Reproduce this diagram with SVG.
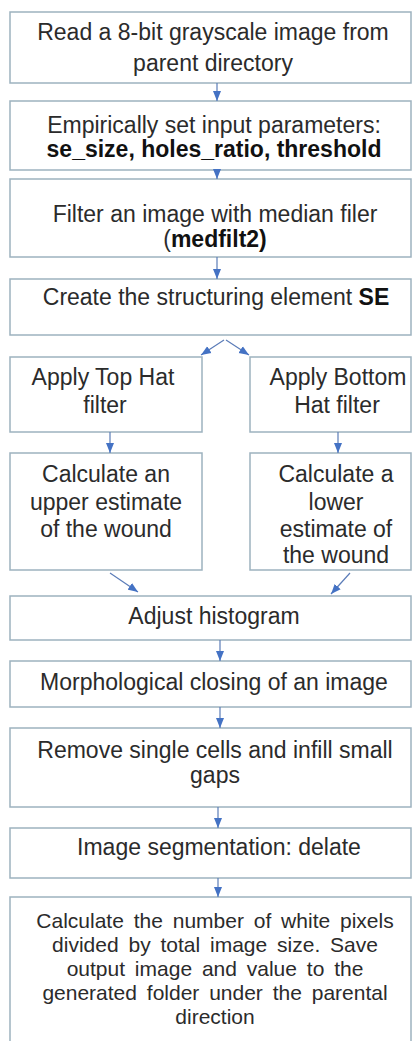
<svg xmlns="http://www.w3.org/2000/svg" width="412" height="1041" viewBox="0 0 412 1041">
<style>
.box{fill:#ffffff;stroke:#9db2bf;stroke-width:1.5}
.t{font-family:"Liberation Sans",Arial,sans-serif;font-size:23px;fill:#2b2b2b;text-anchor:middle}
.s{font-size:21px;word-spacing:4px}
.b{font-weight:bold;fill:#111}
.c{stroke:#5b7cb8;stroke-width:1.2;fill:none}
</style>
<defs>
<marker id="ah" markerUnits="userSpaceOnUse" markerWidth="10" markerHeight="9" viewBox="0 0 10 9" refX="10" refY="4.5" orient="auto">
<path d="M0,0.5 L10,4.5 L0,8.5 z" fill="#4472c4"/>
</marker>
</defs>
<rect width="412" height="1041" fill="#ffffff"/>
<g id="n1"><rect class="box" x="10" y="12" width="401" height="71"/>
<text class="t" x="213" y="40">Read a 8-bit grayscale image from</text>
<text class="t" x="213" y="71">parent directory</text></g>
<g id="n2"><rect class="box" x="10" y="101" width="401" height="69"/>
<text class="t" x="214" y="133">Empirically set input parameters:</text>
<text class="t b" x="214" y="157">se_size, holes_ratio, threshold</text></g>
<g id="n3"><rect class="box" x="10" y="179" width="401" height="78"/>
<text class="t" x="215" y="222">Filter an image with median filer</text>
<text class="t" x="215" y="247">(<tspan class="b">medfilt2)</tspan></text></g>
<g id="n4"><rect class="box" x="10" y="279" width="401" height="56"/>
<text class="t" x="216" y="305">Create the structuring  element <tspan class="b">SE</tspan></text></g>
<g id="n5"><rect class="box" x="10" y="357" width="192" height="75"/>
<text class="t" x="103" y="385">Apply Top Hat</text>
<text class="t" x="105" y="413">filter</text></g>
<g id="n6"><rect class="box" x="250" y="357" width="161" height="75"/>
<text class="t" x="338" y="385">Apply Bottom</text>
<text class="t" x="337" y="413">Hat filter</text></g>
<g id="n7"><rect class="box" x="10" y="453" width="192" height="117"/>
<text class="t" x="106" y="482">Calculate an</text>
<text class="t" x="106" y="510">upper estimate</text>
<text class="t" x="106" y="537">of the wound</text></g>
<g id="n8"><rect class="box" x="250" y="453" width="161" height="117"/>
<text class="t" x="336" y="482">Calculate a</text>
<text class="t" x="336" y="510">lower</text>
<text class="t" x="336" y="537">estimate of</text>
<text class="t" x="336" y="563">the wound</text></g>
<g id="n9"><rect class="box" x="10" y="596" width="401" height="44"/>
<text class="t" x="214" y="624">Adjust histogram</text></g>
<g id="n10"><rect class="box" x="10" y="661" width="401" height="46"/>
<text class="t" x="214" y="690">Morphological closing of an image</text></g>
<g id="n11"><rect class="box" x="10" y="728" width="401" height="79"/>
<text class="t" x="215" y="758">Remove single cells and infill small</text>
<text class="t" x="215" y="783">gaps</text></g>
<g id="n12"><rect class="box" x="10" y="828" width="401" height="50"/>
<text class="t" x="219" y="855">Image segmentation: delate</text></g>
<g id="n13"><rect class="box" x="10" y="897" width="401" height="150"/>
<text class="t s" x="215" y="928">Calculate the number of white pixels</text>
<text class="t s" x="215" y="952">divided by total image size. Save</text>
<text class="t s" x="215" y="976">output image and value to the</text>
<text class="t s" x="215" y="1000">generated folder under the parental</text>
<text class="t s" x="215" y="1024">direction</text></g>
<g id="connectors">
<line class="c" x1="217" y1="83" x2="217" y2="101" marker-end="url(#ah)"/>
<line class="c" x1="217" y1="170" x2="217" y2="179" marker-end="url(#ah)"/>
<line class="c" x1="217" y1="257" x2="217" y2="279" marker-end="url(#ah)"/>
<line class="c" x1="224" y1="340" x2="201" y2="355" marker-end="url(#ah)"/>
<line class="c" x1="226" y1="340" x2="249" y2="355" marker-end="url(#ah)"/>
<line class="c" x1="110" y1="432" x2="110" y2="453" marker-end="url(#ah)"/>
<line class="c" x1="338" y1="432" x2="338" y2="453" marker-end="url(#ah)"/>
<line class="c" x1="110" y1="573" x2="138" y2="592" marker-end="url(#ah)"/>
<line class="c" x1="350" y1="573" x2="331" y2="594" marker-end="url(#ah)"/>
<line class="c" x1="220" y1="640" x2="220" y2="661" marker-end="url(#ah)"/>
<line class="c" x1="220" y1="707" x2="220" y2="728" marker-end="url(#ah)"/>
<line class="c" x1="218" y1="807" x2="218" y2="828" marker-end="url(#ah)"/>
<line class="c" x1="218" y1="878" x2="218" y2="897" marker-end="url(#ah)"/>
</g>
</svg>
